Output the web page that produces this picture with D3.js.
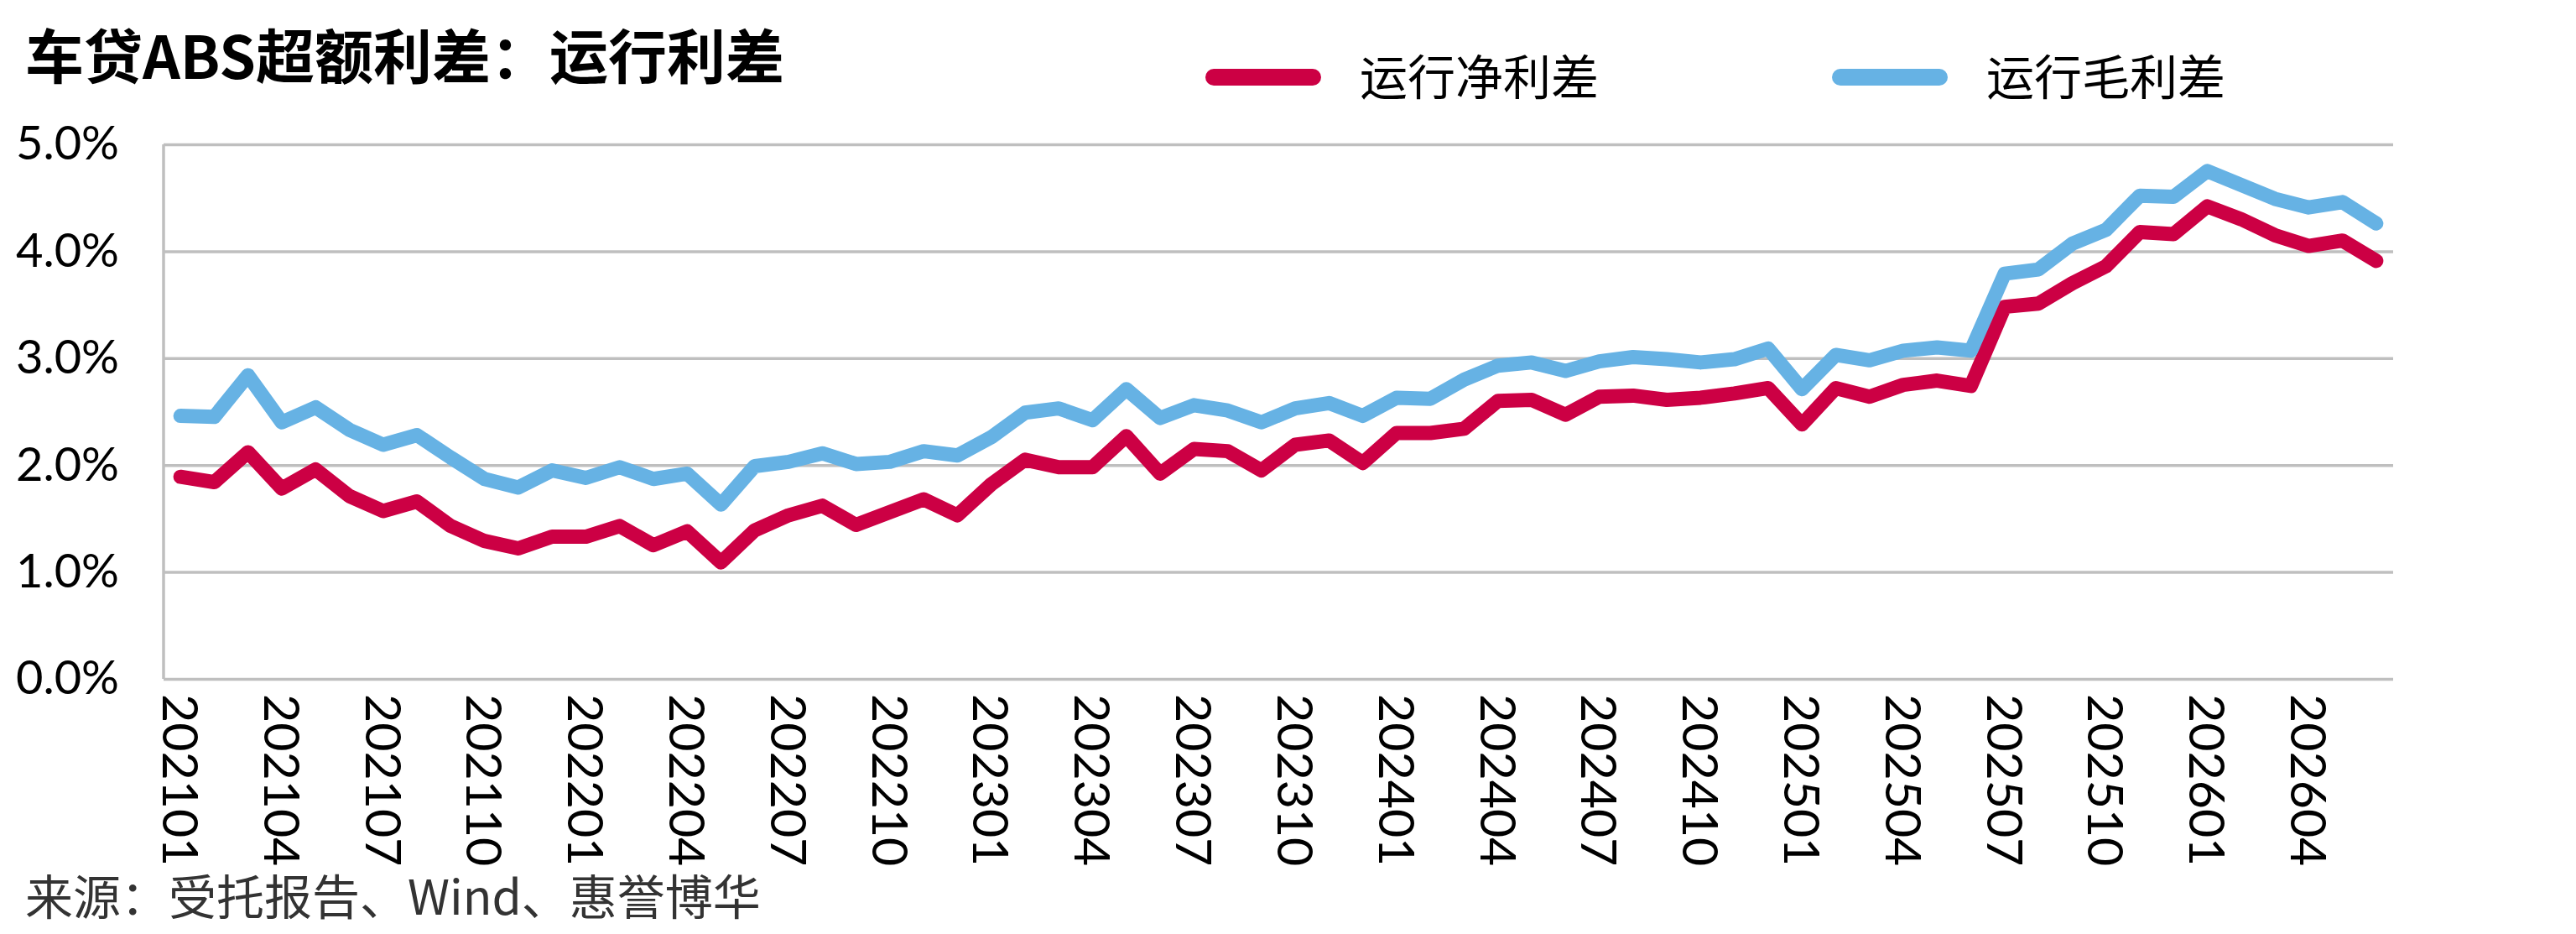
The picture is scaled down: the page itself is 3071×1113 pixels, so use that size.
<!DOCTYPE html>
<html>
<head>
<meta charset="utf-8">
<script src="https://cdn.jsdelivr.net/npm/d3@7"></script>
<style>
  html, body { margin: 0; padding: 0; background: #fff; }
  svg { display: block; }
</style>
</head>
<body>
<div id="graf"></div>
<script>
// categories: monthly, 202101 .. 202606
const months = []
for (let yy = 2021; yy <= 2026; yy++) {
  for (let mm = 1; mm <= 12; mm++) {
    const m = `${yy}${String(mm).padStart(2, '0')}`
    if (m <= '202606') months.push(m)
  }
}

// 运行净利差 (%)
const netSpread = [
  1.89, 1.84, 2.12, 1.78, 1.96, 1.71, 1.57, 1.66, 1.43, 1.29, 1.22, 1.33,
  1.33, 1.43, 1.25, 1.38, 1.09, 1.39, 1.53, 1.62, 1.44, 1.56, 1.68, 1.53,
  1.82, 2.05, 1.98, 1.98, 2.27, 1.92, 2.15, 2.13, 1.95, 2.19, 2.23, 2.02,
  2.30, 2.30, 2.34, 2.60, 2.61, 2.47, 2.64, 2.65, 2.61, 2.63, 2.67, 2.72,
  2.38, 2.72, 2.64, 2.75, 2.79, 2.74, 3.48, 3.51, 3.70, 3.86, 4.18, 4.16,
  4.42, 4.30, 4.15, 4.05, 4.10, 3.91,
]

// 运行毛利差 (%)
const grossSpread = [
  2.46, 2.45, 2.84, 2.40, 2.54, 2.33, 2.19, 2.28, 2.07, 1.87, 1.79, 1.95,
  1.88, 1.98, 1.87, 1.92, 1.63, 1.99, 2.03, 2.11, 2.01, 2.03, 2.13, 2.09,
  2.26, 2.49, 2.53, 2.42, 2.71, 2.44, 2.56, 2.51, 2.40, 2.53, 2.58, 2.46,
  2.63, 2.62, 2.80, 2.93, 2.96, 2.88, 2.97, 3.01, 2.99, 2.96, 2.99, 3.09,
  2.71, 3.03, 2.98, 3.07, 3.10, 3.07, 3.79, 3.83, 4.07, 4.20, 4.52, 4.51,
  4.75, 4.62, 4.49, 4.41, 4.46, 4.26,
]

const yTicks = [0, 1, 2, 3, 4, 5]
const xTickLabels = months.filter((d, i) => i % 3 === 0)

const seriesNames = ['运行净利差', '运行毛利差']
const seriesColors = ['#cc0044', '#66b2e4']

const anchoTotal = 3071
const altoTotal = 1113
const margin = { top: 172, bottom: 304, left: 195, right: 218 }
const ancho = anchoTotal - margin.left - margin.right
const alto = altoTotal - margin.top - margin.bottom

const cjk = '"Noto Sans CJK SC", "Noto Sans", sans-serif'
const num = 'Lato, "Noto Sans", sans-serif'

const svg = d3.select('#graf')
  .append('svg')
  .attr('width', anchoTotal)
  .attr('height', altoTotal)

// title
svg.append('text')
  .attr('x', 30)
  .attr('y', 94)
  .attr('font-family', cjk)
  .attr('font-weight', 700)
  .attr('font-size', 70)
  .attr('fill', '#000')
  .text('车贷ABS超额利差：运行利差')

// legend
const legendPos = [1443, 2190]
seriesNames.forEach((name, i) => {
  const lg = svg.append('g').attr('transform', `translate(${legendPos[i]}, 92)`)
  lg.append('line')
    .attr('x1', 4).attr('x2', 122)
    .attr('y1', 0).attr('y2', 0)
    .attr('stroke', seriesColors[i])
    .attr('stroke-width', 20)
    .attr('stroke-linecap', 'round')
  lg.append('text')
    .attr('x', 178)
    .attr('dy', '0.36em')
    .attr('font-family', cjk)
    .attr('font-size', 57)
    .attr('fill', '#000')
    .text(name)
})

const g = svg.append('g')
  .attr('transform', `translate(${margin.left}, ${margin.top})`)

// scales
const x = d3.scaleBand().domain(months).range([0, ancho]).padding(0)
const y = d3.scaleLinear().domain([0, 5]).range([alto, 0])
const xc = (d) => x(d) + x.bandwidth() / 2

// grid + y labels
const yAxis = g.append('g')
  .call(d3.axisLeft(y)
    .tickValues(yTicks)
    .tickSize(-ancho)
    .tickPadding(53)
    .tickFormat((d) => d3.format('.1f')(d) + '%'))
yAxis.select('.domain').remove()
yAxis.selectAll('line').attr('stroke', '#bfbfbf').attr('stroke-width', 3.5)
yAxis.selectAll('text')
  .attr('font-family', num)
  .attr('font-size', 56)
  .attr('fill', '#000')

// left axis line
g.append('line')
  .attr('x1', 0).attr('x2', 0)
  .attr('y1', y(5)).attr('y2', y(0))
  .attr('stroke', '#bfbfbf')
  .attr('stroke-width', 3.5)

// x labels
const xAxis = g.append('g')
  .attr('transform', `translate(0, ${alto})`)
  .call(d3.axisBottom(x).tickValues(xTickLabels).tickSize(0))
xAxis.select('.domain').remove()
xAxis.selectAll('text')
  .attr('y', 0)
  .attr('x', 18)
  .attr('dy', '0.36em')
  .attr('transform', 'rotate(90)')
  .attr('text-anchor', 'start')
  .attr('font-family', num)
  .attr('font-size', 59)
  .attr('fill', '#000')

// lines
const linea = d3.line()
  .x((d, i) => xc(months[i]))
  .y((d) => y(d))

;[netSpread, grossSpread].forEach((serie, i) => {
  g.append('path')
    .datum(serie)
    .attr('d', linea)
    .attr('fill', 'none')
    .attr('stroke', seriesColors[i])
    .attr('stroke-width', 17)
    .attr('stroke-linejoin', 'round')
    .attr('stroke-linecap', 'round')
})

// source
svg.append('text')
  .attr('x', 30)
  .attr('y', 1090)
  .attr('font-family', cjk)
  .attr('font-size', 57)
  .attr('fill', '#333')
  .text('来源：受托报告、Wind、惠誉博华')
</script>
</body>
</html>
